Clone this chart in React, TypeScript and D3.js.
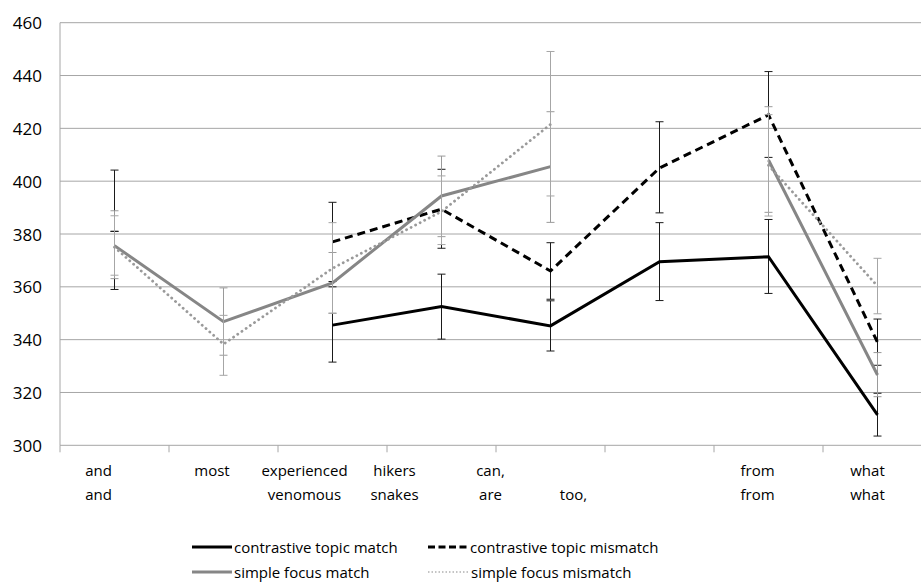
import * as d3 from "d3";
import React from "react";

// categories (two text lines each)
const catLine1 = ["and", "most", "experienced", "hikers", "can,", "", "from", "what"];
const catLine2 = ["and", "", "venomous", "snakes", "are", "too,", "from", "what"];

const yTicks = [300, 320, 340, 360, 380, 400, 420, 440, 460];

// series means (null = no point)
const ctMatch = [null, null, 345.5, 352.5, 345.2, 369.5, 371.4, 311.5];
const ctMismatch = [null, null, 377, 389.4, 366, 405, 425.1, 339];
const sfMatch = [375.6, 346.8, 361.5, 394.4, 405.5, null, 408, 326.6];
const sfMismatch = [375, 338.3, 367, 388.5, 421.5, null, 406, 360.3];

// error bars [low, high]
const ctMatchErr = [[359, 381], null, [331.5, 360], [340.2, 364.8], [335.7, 354.7], [354.8, 384.3], [357.5, 385.5], [303.5, 319.7]];
const ctMismatchErr = [[381, 404.2], null, [362, 392], [374.6, 404.5], [355.3, 376.7], [388, 422.5], [409, 441.5], [330.3, 347.8]];
const sfMatchErr = [[363.1, 388.8], [334.1, 359.6], [350, 373], [379, 409.5], [384.4, 426.3], null, [388.2, 428.2], [318.4, 335.1]];
const sfMismatchErr = [[364.4, 386.9], [326.5, 349.2], [350, 384.3], [376, 402], [394.4, 449.1], null, [386.8, 425.2], [349.8, 370.8]];

const seriesNames = [
  "contrastive topic match",
  "contrastive topic mismatch",
  "simple focus match",
  "simple focus mismatch",
];

const W = 921;
const H = 583;
const m = { left: 60, top: 22.7, bottom: 445.3, right: 932 };
const font = "'Open Sans', 'Noto Sans', sans-serif";

// visual nudges for category labels (Excel-centred text with padding)
const labelNudge = [-16, -11.5, -28, -47, -60, -86, -11, -10];

const styles = [
  { color: "#000000", width: 3, dash: undefined as string | undefined, cap: "butt", err: "#1a1a1a" },
  { color: "#000000", width: 3, dash: "8 5", cap: "butt", err: "#1a1a1a" },
  { color: "#868686", width: 3, dash: undefined, cap: "butt", err: "#9a9a9a" },
  { color: "#9a9a9a", width: 2.8, dash: "0.1 5", cap: "round", err: "#a6a6a6" },
];

export default function App() {
  const idx = catLine1.map((_, i) => i);
  const x = d3.scaleBand<number>().domain(idx).range([m.left, m.right]).padding(0);
  const y = d3.scaleLinear().domain([300, 460]).range([m.bottom, m.top]);
  const cx = (i: number) => x(i)! + x.bandwidth() / 2;

  const all = [ctMatch, ctMismatch, sfMatch, sfMismatch];
  const errs = [ctMatchErr, ctMismatchErr, sfMatchErr, sfMismatchErr];

  const line = d3
    .line<number | null>()
    .defined((d) => d != null)
    .x((_, i) => cx(i))
    .y((d) => y(d as number));

  const gridColor = "#a6a6a6";
  const capW = 4;

  return (
    <svg
      width={W}
      height={H}
      viewBox={`0 0 ${W} ${H}`}
      style={{ position: "absolute", left: 0, top: 0, background: "#fff" }}
      fontFamily={font}
    >
      {/* grid */}
      {yTicks.map((t) => (
        <g key={t}>
          <line x1={m.left} x2={W} y1={y(t)} y2={y(t)} stroke={gridColor} strokeWidth={1} />
          <text x={42} y={y(t)} textAnchor="end" dominantBaseline="central" fontSize={17} fill="#000">
            {t}
          </text>
        </g>
      ))}
      {/* y axis */}
      <line x1={m.left} x2={m.left} y1={m.top} y2={m.bottom} stroke={gridColor} />
      {/* x ticks */}
      {idx.map((i) => (
        <line key={i} x1={x(i)} x2={x(i)} y1={m.bottom} y2={m.bottom + 7} stroke={gridColor} />
      ))}
      {/* category labels */}
      {idx.map((i) => (
        <g key={`l${i}`} fontSize={15} textAnchor="middle" fill="#000">
          <text x={cx(i) + labelNudge[i]} y={476}>{catLine1[i]}</text>
          <text x={cx(i) + labelNudge[i]} y={500}>{catLine2[i]}</text>
        </g>
      ))}

      {/* series */}
      {all.map((s, k) => (
        <g key={`s${k}`}>
          {errs[k].map((e, i) =>
            e ? (
              <g key={i} stroke={styles[k].err} strokeWidth={1}>
                <line x1={cx(i)} x2={cx(i)} y1={y(e[0])} y2={y(e[1])} />
                <line x1={cx(i) - capW} x2={cx(i) + capW} y1={y(e[0])} y2={y(e[0])} />
                <line x1={cx(i) - capW} x2={cx(i) + capW} y1={y(e[1])} y2={y(e[1])} />
              </g>
            ) : null
          )}
          <path
            d={line(s) ?? undefined}
            fill="none"
            stroke={styles[k].color}
            strokeWidth={styles[k].width}
            strokeDasharray={styles[k].dash}
            strokeLinecap={styles[k].cap as any}
            strokeLinejoin="miter"
          />
        </g>
      ))}

      {/* legend */}
      {seriesNames.map((n, k) => {
        const col = k % 2;
        const row = Math.floor(k / 2);
        const lx = col === 0 ? 192 : 428;
        const ly = 547 + row * 25;
        const leg = [
          { dash: undefined, w: 3, c: "#000" },
          { dash: "7 3.5", w: 3, c: "#000" },
          { dash: undefined, w: 3, c: "#868686" },
          { dash: "1.5 2", w: 1.2, c: "#8a8a8a" },
        ][k];
        return (
          <g key={n}>
            <line x1={lx} x2={lx + 40} y1={ly} y2={ly} stroke={leg.c} strokeWidth={leg.w} strokeDasharray={leg.dash} />
            <text x={lx + (k === 3 ? 43 : 42)} y={ly} dominantBaseline="central" fontSize={15} fill="#000">
              {n}
            </text>
          </g>
        );
      })}
    </svg>
  );
}
